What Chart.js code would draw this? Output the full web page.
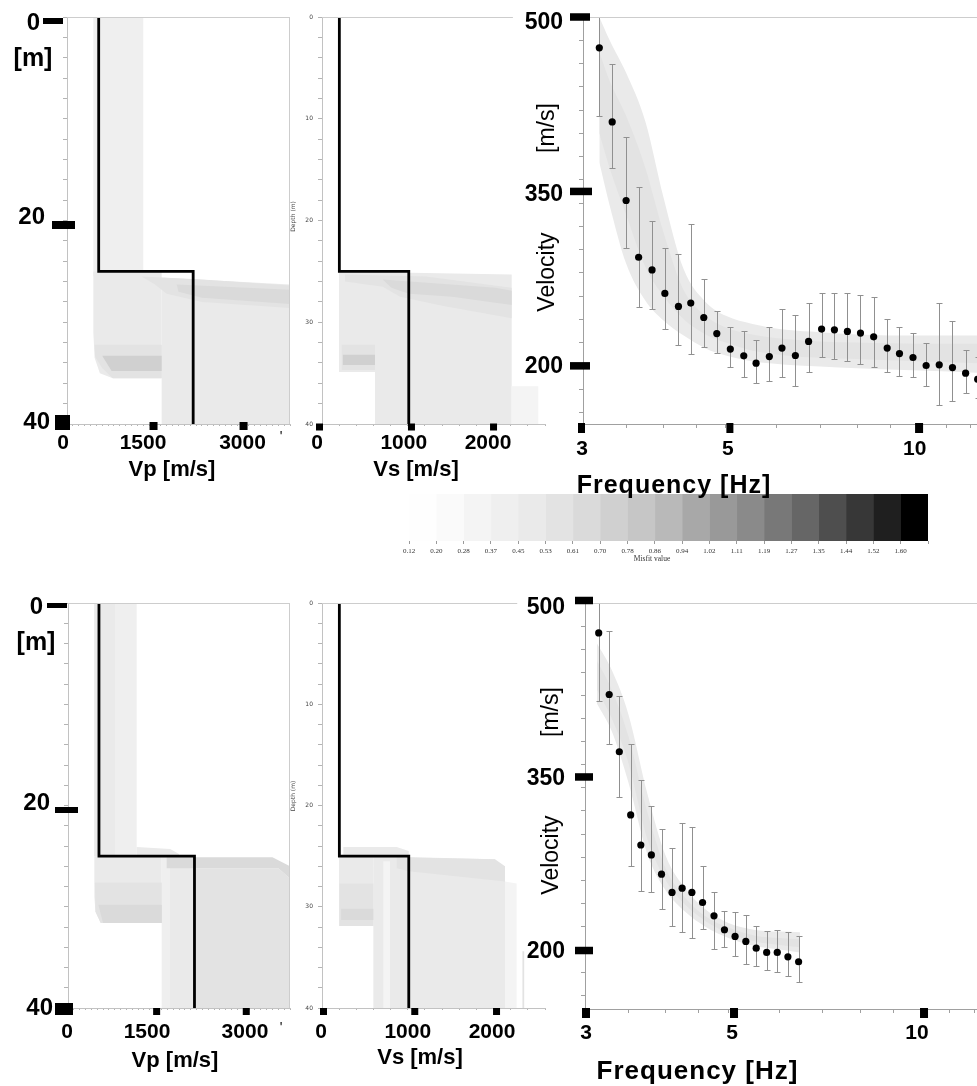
<!DOCTYPE html>
<html>
<head>
<meta charset="utf-8">
<title>Vp / Vs profiles and dispersion curves</title>
<script src="https://cdn.jsdelivr.net/npm/chart.js@4.4.1/dist/chart.umd.min.js"></script>
<style>
  html, body { margin: 0; padding: 0; background: #fff; overflow: hidden; }
  #page { position: relative; width: 977px; height: 1086px; overflow: hidden; background: #fff; }
  #page canvas { position: absolute; left: 0; top: 0; }
</style>
</head>
<body>
<div id="page">
  <canvas id="misfitBar" width="1000" height="1086"></canvas>
  <canvas id="vpTop" width="1000" height="1086"></canvas>
  <canvas id="vsTop" width="1000" height="1086"></canvas>
  <canvas id="dispTop" width="1000" height="1086"></canvas>
  <canvas id="vpBottom" width="1000" height="1086"></canvas>
  <canvas id="vsBottom" width="1000" height="1086"></canvas>
  <canvas id="dispBottom" width="1000" height="1086"></canvas>
</div>
<script>
const CW = 1000, CH = 1086;
const SANS = '"Liberation Sans", Arial, sans-serif';
Chart.defaults.font.family = SANS;
Chart.defaults.animation = false;
Chart.defaults.events = [];
Chart.defaults.plugins.legend.display = false;
Chart.defaults.plugins.tooltip.enabled = false;

// ---- best models (depth in m) ----
const depthKnots = [0, 25, 25, 40];
const vpModelTop = [540, 540, 2150, 2150];
const vsModelTop = [200, 200, 1000, 1000];
const vpModelBottom = [530, 530, 2165, 2165];
const vsModelBottom = [200, 200, 1000, 1000];

// ---- labelled ticks ----
const depthTicks = [0, 20, 40];
const depthSmallTicks = [0, 10, 20, 30, 40];
const vpTicks = [0, 1500, 3000];
const vsTicks = [0, 1000, 2000];
const velTicks = [500, 350, 200];
const freqTicks = [3, 5, 10];
const velMinorTicks = [160, 180, 200, 220, 240, 260, 280, 300, 320, 340, 360, 380, 400, 420, 440, 460, 480, 500];
const freqMinorTicks = [3, 3.5, 4, 4.5, 5, 6, 7, 8, 9, 10, 11, 12];

// ---- misfit colour scale ----
const misfitTicks = [0.12, 0.20, 0.28, 0.37, 0.45, 0.53, 0.61, 0.70, 0.78, 0.86, 0.94, 1.02, 1.11, 1.19, 1.27, 1.35, 1.44, 1.52, 1.60];
const misfitGreys = ['#fefefe', '#fafafa', '#f4f4f4', '#efefef', '#eaeaea', '#e3e3e3', '#dadada', '#d0d0d0', '#c6c6c6',
  '#b9b9b9', '#a8a8a8', '#999999', '#8a8a8a', '#787878', '#666666', '#4e4e4e', '#373737', '#1f1f1f', '#000000'];

// ---- dispersion, top row ----
const freqTop = [3.18, 3.33, 3.50, 3.66, 3.84, 4.02, 4.22, 4.41, 4.62, 4.84, 5.08, 5.33, 5.57, 5.84, 6.11,
  6.41, 6.72, 7.04, 7.37, 7.72, 8.09, 8.48, 8.90, 9.30, 9.76, 10.23, 10.72, 11.24, 11.78, 12.30];
const velTop = [473.5, 409.8, 342.2, 293.4, 282.5, 262.3, 251.1, 254.0, 241.6, 227.8, 214.4, 208.6, 202.3, 208.0, 215.3,
  208.9, 221.0, 231.6, 231.0, 229.6, 228.2, 225.0, 215.3, 210.6, 207.2, 200.3, 200.9, 198.5, 193.7, 188.5];
const errHiTop = [500, 460, 397, 354, 325, 301, 296, 322, 275, 247, 233, 230, 222, 233, 249,
  244, 254, 263, 263, 263, 261, 259, 240, 233, 228, 220, 254, 239, 214, 208];
const errLoTop = [415, 370, 301, 251, 249, 232, 218, 210, 216, 211, 199, 190, 185, 187, 190,
  183, 195, 208, 206, 204, 202, 199, 195, 191, 190, 183, 166, 170, 177, 172];
const bandFreqTop = [3.18, 3.3, 3.5, 3.75, 4.0, 4.3, 4.65, 5.0, 5.5, 6.2, 7.0, 8.0, 10.0, 12.5];
const bandUpTop = [500, 480, 452, 410, 345, 283, 255, 243, 236, 231, 229, 227, 226, 226];
const bandLoTop = [375, 338, 288, 256, 239, 226, 215, 209, 204, 201, 199.5, 198, 196, 194];
const coreUpTop = [470, 445, 415, 370, 315, 265, 243, 233, 227, 223, 221, 220, 219, 219];
const coreLoTop = [400, 370, 330, 285, 260, 240, 227, 220, 213, 209, 207, 206, 204, 202];

// ---- dispersion, bottom row ----
const freqBottom = [3.15, 3.27, 3.39, 3.53, 3.66, 3.80, 3.94, 4.09, 4.24, 4.39, 4.56, 4.75, 4.93, 5.12, 5.32,
  5.52, 5.73, 5.95, 6.18, 6.42];
const velBottom = [474.1, 420.8, 371.2, 316.5, 290.5, 281.9, 265.2, 249.4, 253.1, 249.4, 240.7, 229.2, 217.1, 211.3, 207.0,
  201.2, 197.5, 197.5, 193.7, 189.4];
const errHiBottom = [500, 475.5, 419.3, 377.6, 346.4, 324.3, 304.7, 287.7, 309.9, 306.4, 272.4, 249.4, 233.5, 232.1, 229.8,
  220.0, 215.6, 216.8, 215.4, 211.3];
const errLoBottom = [415, 377.6, 332.3, 272.4, 250.8, 249.4, 235.5, 220.5, 214.8, 209.6, 217.7, 200.4, 201.8, 194.6, 187.4,
  185.4, 182.5, 180.2, 176.8, 171.6];
const bandFreqBottom = [3.13, 3.3, 3.5, 3.75, 4.0, 4.3, 4.6, 5.0, 5.5, 6.0, 6.45];
const bandUpBottom = [465, 442, 404, 334, 281, 252, 235, 223, 217, 215.5, 215];
const bandLoBottom = [413, 389, 345, 282, 251, 232, 220, 210, 203, 200, 197.5];
const coreUpBottom = [450, 425, 385, 318, 270, 244, 229, 219, 212, 210, 209];
const coreLoBottom = [425, 400, 362, 295, 260, 238, 225, 214, 207, 204, 202];

// ---- model ensembles, outlines as [velocity, depth], m = misfit ----
const vpShadeTop = [
  {m: 0.40, pts: [[449, 0], [1300, 0], [1300, 25.5], [449, 25.5]]},
  {m: 0.48, pts: [[449, 25], [1613, 25], [1613, 35.5], [780, 35.5], [560, 35], [470, 33.5], [449, 31]]},
  {m: 0.48, pts: [[1270, 25.5], [3800, 26.3], [3800, 40], [1613, 40], [1613, 25.6]]},
  {m: 0.56, pts: [[1270, 25.5], [2300, 25.8], [3800, 26.4], [3800, 28.6], [2300, 28.0], [1700, 27.2], [1500, 26.3]]},
  {m: 0.65, pts: [[1870, 26.3], [3800, 26.8], [3800, 28.2], [2300, 27.6], [1900, 27.0]]},
  {m: 0.56, pts: [[470, 32.2], [1613, 32.2], [1613, 35.5], [780, 35.5], [600, 34.5], [480, 33.4]]},
  {m: 0.72, pts: [[600, 33.3], [1613, 33.3], [1613, 34.8], [760, 34.8]]}
];
const vsShadeTop = [
  {m: 0.48, pts: [[196, 25], [2186, 25.3], [2186, 40], [611, 40], [611, 34.9], [196, 34.9]]},
  {m: 0.30, pts: [[2186, 36.3], [2493, 36.3], [2493, 40], [2186, 40]]},
  {m: 0.56, pts: [[265, 25.3], [1200, 25.5], [2186, 26.6], [2186, 29.6], [1400, 28.4], [900, 27.5], [700, 26.5], [265, 26.0]]},
  {m: 0.65, pts: [[700, 25.8], [2000, 26.6], [2186, 26.9], [2186, 28.3], [1500, 27.5], [1000, 27.2], [800, 26.6]]},
  {m: 0.60, pts: [[227, 32.2], [611, 32.2], [611, 34.7], [227, 34.7]]},
  {m: 0.72, pts: [[240, 33.2], [611, 33.2], [611, 34.2], [240, 34.2]]}
];
const vpShadeBottom = [
  {m: 0.40, pts: [[451, 0], [1175, 0], [1175, 25], [451, 25]]},
  {m: 0.48, pts: [[451, 0], [805, 0], [805, 25], [451, 25]]},
  {m: 0.50, pts: [[1175, 24.1], [1750, 24.3], [1900, 24.8], [1900, 25.1], [1175, 25.1]]},
  {m: 0.48, pts: [[451, 25], [1604, 25], [1604, 31.6], [560, 31.6], [470, 30.5], [451, 29]]},
  {m: 0.40, pts: [[1604, 25], [2150, 25], [2150, 40], [1604, 40]]},
  {m: 0.48, pts: [[1746, 25.5], [2150, 25.5], [2150, 40], [1746, 40]]},
  {m: 0.56, pts: [[2150, 26.2], [3600, 26.2], [3800, 27.2], [3800, 40], [2150, 40]]},
  {m: 0.62, pts: [[1689, 25.1], [3500, 25.1], [3800, 26.0], [3800, 27.2], [3600, 26.2], [1689, 26.2]]},
  {m: 0.54, pts: [[460, 27.6], [1604, 27.6], [1604, 31.6], [560, 31.6], [470, 30.5]]},
  {m: 0.62, pts: [[520, 29.8], [1604, 29.8], [1604, 31.6], [600, 31.6]]}
];
const vsShadeBottom = [
  {m: 0.50, pts: [[246, 24.1], [861, 24.1], [1000, 24.5], [1000, 25], [246, 25]]},
  {m: 0.50, pts: [[592, 25], [1994, 25.3], [1994, 25.9], [2109, 26], [2109, 40], [592, 40]]},
  {m: 0.45, pts: [[196, 25], [592, 25], [592, 31.9], [196, 31.9]]},
  {m: 0.56, pts: [[200, 27.7], [592, 27.7], [592, 31.9], [200, 31.9]]},
  {m: 0.66, pts: [[220, 30.2], [592, 30.2], [592, 31.3], [220, 31.3]]},
  {m: 0.58, pts: [[861, 25.1], [1994, 25.3], [2109, 26], [2109, 27.5], [1000, 26.5], [861, 26.2]]},
  {m: 0.36, pts: [[707, 25.5], [784, 25.5], [784, 40], [707, 40]]},
  {m: 0.30, pts: [[2109, 27.5], [2243, 27.7], [2243, 40], [2109, 40]]},
  {m: 0.56, pts: [[2310, 34.4], [2330, 34.4], [2330, 40], [2310, 40]]}
];

// ---------- helpers ----------
function misfitColor(m) {
  let i = 0;
  while (i < misfitTicks.length - 1 && misfitTicks[i + 1] <= m) i++;
  return misfitGreys[i];
}

function pad(l, t, r, b) { return {left: l, top: t, right: CW - r, bottom: CH - b}; }

// axes take no room: the chart area is set by the layout padding
function flat(s) {
  if (s.isHorizontal()) s.height = 0; else s.width = 0;
  s.paddingLeft = s.paddingRight = s.paddingTop = s.paddingBottom = 0;
}

function text(ctx, s, x, y, font, align, rot, ls, color) {
  ctx.save();
  ctx.font = font;
  ctx.textAlign = align || 'center';
  ctx.textBaseline = 'middle';
  ctx.fillStyle = color || '#000';
  if (ls) ctx.letterSpacing = ls;
  ctx.translate(x, y);
  if (rot) ctx.rotate(rot);
  ctx.fillText(s, 0, 0);
  ctx.restore();
}

// big tick labels, the black tick blocks and axis titles
function makeDecor(cfg) {
  return {
    id: 'decor',
    afterDraw(chart) {
      const ctx = chart.ctx, a = chart.chartArea, xs = chart.scales.x, ys = chart.scales.y;
      ctx.save();
      ctx.strokeStyle = '#cdcdcd';
      ctx.lineWidth = 1;
      if (cfg.top !== undefined) {
        ctx.beginPath();
        ctx.moveTo(a.left, a.top + 0.5);
        ctx.lineTo(cfg.top === null ? a.right : xs.getPixelForValue(cfg.top), a.top + 0.5);
        ctx.stroke();
      }
      if (cfg.right) {
        ctx.beginPath();
        ctx.moveTo(a.right - 0.5, a.top);
        ctx.lineTo(a.right - 0.5, a.bottom);
        ctx.stroke();
      }
      ctx.fillStyle = '#000';
      if (cfg.y) cfg.y.values.forEach((v, i) => {
        const py = ys.getPixelForValue(v);
        const m = cfg.y.marks[i];
        ctx.fillRect(a.left + m[1], py + m[0] - m[3] / 2, m[2] - m[1], m[3]);
        const t = cfg.y.texts[i];
        text(ctx, String(v), a.left + t[0], py + t[1], cfg.y.font, 'right');
      });
      if (cfg.x) cfg.x.values.forEach((v, i) => {
        const px = xs.getPixelForValue(v);
        const m = cfg.x.marks[i];
        ctx.fillRect(px + m[0] - m[2] / 2, a.bottom + m[1] - m[3] / 2, m[2], m[3]);
        const t = cfg.x.texts[i];
        text(ctx, String(v), px + t[0], a.bottom + t[1], cfg.x.font, 'center');
      });
      (cfg.small || []).forEach(t => t.values.forEach((v, i) => {
        const s = t.fmt ? t.fmt(v) : String(v);
        if (t.ax === 'y') text(ctx, s, a.left + t.dx, ys.getPixelForValue(v) + t.dy, t.font, 'right', 0, 0, t.color);
        else text(ctx, s, xs.getPixelForValue(v) + t.dx, a.bottom + t.dy, t.font, 'center', 0, 0, t.color);
      }));
      (cfg.notes || []).forEach(n => {
        const py = n.v !== undefined ? ys.getPixelForValue(n.v) + (n.dy || 0) : a.bottom + n.dy;
        text(ctx, n.t, a.left + n.dx, py, n.font, n.align, n.rot, n.ls, n.color);
      });
      ctx.restore();
    }
  };
}

const errorBars = {
  id: 'errorBars',
  beforeDatasetDraw(chart, args) {
    if (args.index !== 0) return;
    const ds = chart.data.datasets[0];
    const {ctx, chartArea: a} = chart;
    const xs = chart.scales.x, ys = chart.scales.y;
    ctx.save();
    ctx.beginPath();
    ctx.rect(a.left, a.top, a.right - a.left, a.bottom - a.top);
    ctx.clip();
    ctx.strokeStyle = '#909090';
    ctx.lineWidth = 1;
    ds.data.forEach((p, i) => {
      const px = Math.round(xs.getPixelForValue(p.x)) + 0.5;
      const y1 = Math.round(ys.getPixelForValue(ds.errHi[i])) + 0.5;
      const y2 = Math.round(ys.getPixelForValue(ds.errLo[i])) + 0.5;
      ctx.beginPath();
      ctx.moveTo(px, y1); ctx.lineTo(px, y2);
      ctx.moveTo(px - 3, y1); ctx.lineTo(px + 3, y1);
      ctx.moveTo(px - 3, y2); ctx.lineTo(px + 3, y2);
      ctx.stroke();
    });
    ctx.restore();
  }
};

const axisLine = c => ({display: true, color: c, width: 1});

function depthChart(id, area, xMax, xStep, model, shades, deco) {
  const shadeSets = shades.map(s => ({
    data: s.pts.map(p => ({x: p[0], y: p[1]})),
    fill: 'shape',
    backgroundColor: misfitColor(s.m),
    borderColor: 'rgba(0,0,0,0)',
    borderWidth: 0,
    pointRadius: 0,
    tension: 0
  })).reverse();
  return new Chart(document.getElementById(id), {
    type: 'line',
    data: {
      datasets: [{
        data: model.map((v, i) => ({x: v, y: depthKnots[i]})),
        borderColor: '#000',
        borderWidth: 2.8,
        borderJoinStyle: 'miter',
        pointRadius: 0,
        tension: 0,
        fill: false
      }, ...shadeSets]
    },
    options: {
      responsive: false,
      layout: {padding: pad(...area)},
      scales: {
        x: {
          type: 'linear', min: 0, max: xMax, afterFit: flat,
          border: axisLine('#c2c2c2'),
          grid: {drawOnChartArea: false, tickLength: 2, color: '#b4b4b4'},
          ticks: {display: false, stepSize: xStep}
        },
        y: {
          type: 'linear', reverse: true, min: 0, max: 40, afterFit: flat,
          border: axisLine('#c2c2c2'),
          grid: {drawOnChartArea: false, tickLength: 4, color: '#b4b4b4'},
          ticks: {display: false, stepSize: 2}
        }
      }
    },
    plugins: [makeDecor(deco)]
  });
}

function dispersionChart(id, area, yMin, xMax, d, deco) {
  const line = (vals, fill, m) => ({
    data: d.bandF.map((f, i) => ({x: f, y: vals[i]})),
    fill: fill,
    backgroundColor: misfitColor(m),
    borderColor: 'rgba(0,0,0,0)',
    borderWidth: 0,
    pointRadius: 0,
    cubicInterpolationMode: 'monotone'
  });
  return new Chart(document.getElementById(id), {
    type: 'line',
    data: {
      datasets: [
        {
          data: d.freq.map((f, i) => ({x: f, y: d.vel[i]})),
          errHi: d.hi, errLo: d.lo,
          showLine: false,
          pointRadius: 3.6,
          pointBackgroundColor: '#000',
          pointBorderColor: '#000',
          pointBorderWidth: 0
        },
        line(d.coreUp, '+1', 0.56),
        line(d.coreLo, false, 0.56),
        line(d.up, '+1', 0.45),
        line(d.lo2, false, 0.45)
      ]
    },
    options: {
      responsive: false,
      layout: {padding: pad(...area)},
      scales: {
        x: {
          type: 'logarithmic', min: 3, max: xMax, afterFit: flat,
          afterBuildTicks: s => { s.ticks = freqMinorTicks.map(v => ({value: v})); },
          border: axisLine('#a0a0a0'),
          grid: {drawOnChartArea: false, tickLength: 4, color: '#a0a0a0'},
          ticks: {display: false}
        },
        y: {
          type: 'linear', min: yMin, max: 500, afterFit: flat,
          afterBuildTicks: s => { s.ticks = velMinorTicks.map(v => ({value: v})); },
          border: axisLine('#a0a0a0'),
          grid: {drawOnChartArea: false, tickLength: 4, color: '#a0a0a0'},
          ticks: {display: false}
        }
      }
    },
    plugins: [errorBars, makeDecor(deco)]
  });
}

const B24 = 'bold 24px ' + SANS, B21 = 'bold 21px ' + SANS, B22 = 'bold 22px ' + SANS, B23 = 'bold 23px ' + SANS;
const TINY = '6px "DejaVu Sans", sans-serif';
const UP = -Math.PI / 2;
const smallDepth = {ax: 'y', values: depthSmallTicks, dx: -9, dy: 0, font: TINY, color: '#444'};

// ---------- misfit colour bar (under the top axis title) ----------
new Chart(document.getElementById('misfitBar'), {
  type: 'bar',
  data: {
    labels: [''],
    datasets: misfitGreys.map(c => ({
      data: [1], backgroundColor: c, borderWidth: 0, barPercentage: 1, categoryPercentage: 1
    }))
  },
  options: {
    indexAxis: 'y',
    responsive: false,
    layout: {padding: pad(409, 494, 928, 541)},
    scales: {
      x: {
        type: 'linear', stacked: true, min: 0, max: misfitGreys.length, afterFit: flat,
        border: {display: false},
        grid: {drawOnChartArea: false, tickLength: 3, color: '#9a9a9a'},
        ticks: {display: false, stepSize: 1}
      },
      y: {stacked: true, display: false}
    }
  },
  plugins: [makeDecor({
    small: [{ax: 'x', values: misfitTicks.map((_, i) => i), fmt: i => misfitTicks[i].toFixed(2),
             dx: 0, dy: 10, font: '7px "Liberation Serif", serif', color: '#333'}],
    notes: [{t: 'Misfit value', dx: 243, dy: 18, font: '7.5px "Liberation Serif", serif', color: '#333'}]
  })]
});

// ---------- top row ----------
depthChart('vpTop', [67, 17, 290, 424], 3800, 100, vpModelTop, vpShadeTop, {
  top: null, right: true,
  y: {values: depthTicks, font: B24,
      marks: [[4, -24, -4, 6], [4.5, -15, 8, 8], [-1.5, -12, 3, 15]],
      texts: [[-27, 6.5], [-22, -3], [-17, -1.5]]},
  x: {values: vpTicks, font: B21,
      marks: [[-1, 2, 8, 8], [-1.5, 2, 8, 8], [0.5, 2, 8, 8]],
      texts: [[-4, 19], [-12, 19], [-0.5, 19]]},
  notes: [
    {t: '[m]', dx: -34, v: 4, dy: 1, font: 'bold 25px ' + SANS},
    {t: 'Vp [m/s]', dx: 105, dy: 46, font: B22},
    {t: "'", dx: 214, dy: 13, font: '14px ' + SANS}
  ]
});

depthChart('vsTop', [322, 17, 545, 424], 2570, 200, vsModelTop, vsShadeTop, {
  top: 2200,
  small: [smallDepth],
  x: {values: vsTicks, font: B21,
      marks: [[-2.5, 3, 7, 7], [2.7, 3, 7, 7], [-2, 3, 7, 7]],
      texts: [[-5, 19], [-5, 19], [-7.5, 19]]},
  notes: [
    {t: 'Vs [m/s]', dx: 94, dy: 46, font: B22},
    {t: 'Depth (m)', dx: -29, v: 19.6, font: TINY, rot: UP, color: '#444'}
  ]
});

dispersionChart('dispTop', [583, 17, 977, 424], 150, 12.27, {
  freq: freqTop, vel: velTop, hi: errHiTop, lo: errLoTop,
  bandF: bandFreqTop, up: bandUpTop, lo2: bandLoTop, coreUp: coreUpTop, coreLo: coreLoTop
}, {
  top: null,
  y: {values: velTicks, font: B23,
      marks: [[0, -13, 7, 7.5], [0, -13, 9, 7.5], [0, -13, 7, 7.5]],
      texts: [[-20, 5.5], [-20, 3.6], [-20, 1]]},
  x: {values: freqTicks, font: B21,
      marks: [[-1.5, 4, 7, 10], [4, 4, 7, 10], [-0.7, 4, 8, 10]],
      texts: [[-1, 25], [2, 25], [-5, 25]]},
  notes: [
    {t: 'Velocity', dx: -35, v: 280.7, font: '23px ' + SANS, rot: UP},
    {t: '[m/s]', dx: -35, v: 404.5, font: '23px ' + SANS, rot: UP},
    {t: 'Frequency [Hz]', dx: 91, dy: 62, font: 'bold 25px ' + SANS, ls: '1px'}
  ]
});

// ---------- bottom row ----------
depthChart('vpBottom', [68, 603, 290, 1008], 3800, 100, vpModelBottom, vpShadeBottom, {
  top: null, right: true,
  y: {values: depthTicks, font: B24,
      marks: [[2.5, -21, -1, 5], [4.5, -13, 10, 6], [1, -13, 5, 12]],
      texts: [[-25, 4.5], [-18, -2], [-15, 0.5]]},
  x: {values: vpTicks, font: B21,
      marks: [[0.5, 3.5, 7, 7], [1, 3.5, 7, 7], [3, 3.5, 7, 7]],
      texts: [[-1, 24], [-8.6, 24], [1.7, 24]]},
  notes: [
    {t: '[m]', dx: -32, v: 4, dy: 0, font: 'bold 25px ' + SANS},
    {t: 'Vp [m/s]', dx: 107, dy: 53, font: B22},
    {t: "'", dx: 213, dy: 20, font: '14px ' + SANS}
  ]
});

depthChart('vsBottom', [322, 603, 545, 1008], 2570, 200, vsModelBottom, vsShadeBottom, {
  top: 2250,
  small: [smallDepth],
  x: {values: vsTicks, font: B21,
      marks: [[1.5, 3.5, 7, 7], [6, 3.5, 7, 7], [1, 3.5, 7, 7]],
      texts: [[-1, 24], [-1, 24], [-3.5, 24]]},
  notes: [
    {t: 'Vs [m/s]', dx: 98, dy: 50, font: B22},
    {t: 'Depth (m)', dx: -29, v: 19.06, font: TINY, rot: UP, color: '#444'}
  ]
});

dispersionChart('dispBottom', [585, 603, 977, 1009], 148.5, 12.12, {
  freq: freqBottom, vel: velBottom, hi: errHiBottom, lo: errLoBottom,
  bandF: bandFreqBottom, up: bandUpBottom, lo2: bandLoBottom, coreUp: coreUpBottom, coreLo: coreLoBottom
}, {
  top: null,
  y: {values: velTicks, font: B23,
      marks: [[-2.5, -10, 8, 7.5], [0.7, -10, 8, 7.5], [1, -10, 8, 7.5]],
      texts: [[-20, 4.5], [-20, 2.2], [-20, 2]]},
  x: {values: freqTicks, font: B21,
      marks: [[1, 4, 8, 10], [5.6, 4, 8, 10], [1, 4, 8, 10]],
      texts: [[1, 24], [3.6, 24], [-6, 24]]},
  notes: [
    {t: 'Velocity', dx: -33, v: 281.8, font: '23px ' + SANS, rot: UP},
    {t: '[m/s]', dx: -33, v: 405.6, font: '23px ' + SANS, rot: UP},
    {t: 'Frequency [Hz]', dx: 112.5, dy: 63, font: 'bold 26px ' + SANS, ls: '1px'}
  ]
});
</script>
</body>
</html>
